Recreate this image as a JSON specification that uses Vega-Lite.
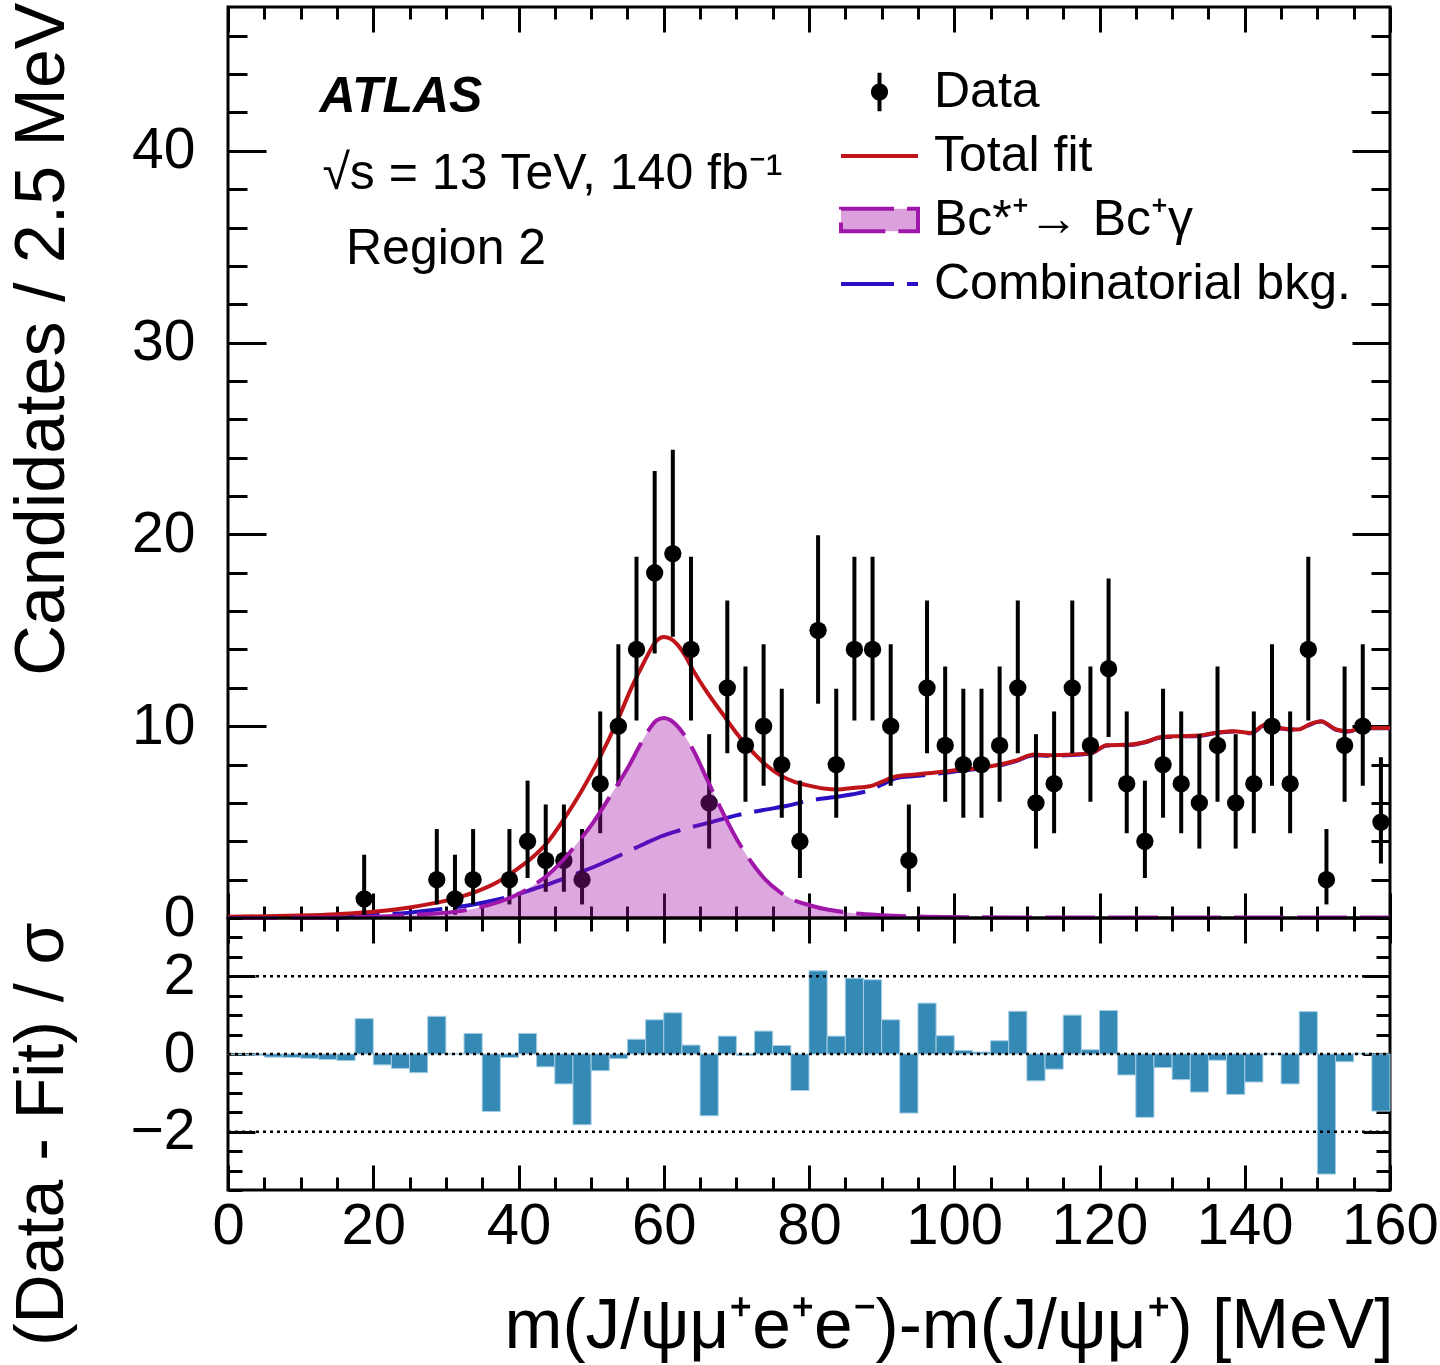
{
  "$schema": "https://vega.github.io/schema/vega-lite/v6.json",
  "padding": {"left": 5, "top": 0, "right": 4, "bottom": 4},
  "background": "white",
  "spacing": 0,
  "bounds": "flush",
  "config": {
    "view": {"stroke": "black", "strokeWidth": 3},
    "axis": {
      "grid": false, "domain": false, "tickColor": "black", "tickWidth": 3, "tickSize": 0,
      "labelFont": "Liberation Sans", "labelFontSize": 57, "labelColor": "black",
      "titleFont": "Liberation Sans", "titleFontSize": 68, "titleFontWeight": "normal", "titleColor": "black",
      "labelOverlap": false, "labelFlush": false, "labelBound": false
    },
    "text": {"font": "Liberation Sans", "color": "black"}
  },
  "datasets": {
    "bins": [
      {"lo": 0, "hi": 2.5, "c": 1.25, "n": 0, "res": -0.02},
      {"lo": 2.5, "hi": 5, "c": 3.75, "n": 0, "res": -0.03},
      {"lo": 5, "hi": 7.5, "c": 6.25, "n": 0, "res": -0.08},
      {"lo": 7.5, "hi": 10, "c": 8.75, "n": 0, "res": -0.09},
      {"lo": 10, "hi": 12.5, "c": 11.25, "n": 0, "res": -0.11},
      {"lo": 12.5, "hi": 15, "c": 13.75, "n": 0, "res": -0.14},
      {"lo": 15, "hi": 17.5, "c": 16.25, "n": 0, "res": -0.17},
      {"lo": 17.5, "hi": 20, "c": 18.75, "n": 1, "elo": 0.173, "ehi": 3.3, "res": 0.91},
      {"lo": 20, "hi": 22.5, "c": 21.25, "n": 0, "res": -0.28},
      {"lo": 22.5, "hi": 25, "c": 23.75, "n": 0, "res": -0.37},
      {"lo": 25, "hi": 27.5, "c": 26.25, "n": 0, "res": -0.48},
      {"lo": 27.5, "hi": 30, "c": 28.75, "n": 2, "elo": 0.708, "ehi": 4.638, "res": 0.97},
      {"lo": 30, "hi": 32.5, "c": 31.25, "n": 1, "elo": 0.173, "ehi": 3.3, "res": 0.01},
      {"lo": 32.5, "hi": 35, "c": 33.75, "n": 2, "elo": 0.708, "ehi": 4.638, "res": 0.53},
      {"lo": 35, "hi": 37.5, "c": 36.25, "n": 0, "res": -1.48},
      {"lo": 37.5, "hi": 40, "c": 38.75, "n": 2, "elo": 0.708, "ehi": 4.638, "res": -0.09},
      {"lo": 40, "hi": 42.5, "c": 41.25, "n": 4, "elo": 2.086, "ehi": 7.163, "res": 0.53},
      {"lo": 42.5, "hi": 45, "c": 43.75, "n": 3, "elo": 1.367, "ehi": 5.918, "res": -0.33},
      {"lo": 45, "hi": 47.5, "c": 46.25, "n": 3, "elo": 1.367, "ehi": 5.918, "res": -0.77},
      {"lo": 47.5, "hi": 50, "c": 48.75, "n": 2, "elo": 0.708, "ehi": 4.638, "res": -1.82},
      {"lo": 50, "hi": 52.5, "c": 51.25, "n": 7, "elo": 4.419, "ehi": 10.77, "res": -0.43},
      {"lo": 52.5, "hi": 55, "c": 53.75, "n": 10, "elo": 6.891, "ehi": 14.27, "res": -0.12},
      {"lo": 55, "hi": 57.5, "c": 56.25, "n": 14, "elo": 10.3, "ehi": 18.83, "res": 0.38},
      {"lo": 57.5, "hi": 60, "c": 58.75, "n": 18, "elo": 13.79, "ehi": 23.31, "res": 0.88},
      {"lo": 60, "hi": 62.5, "c": 61.25, "n": 19, "elo": 14.67, "ehi": 24.42, "res": 1.06},
      {"lo": 62.5, "hi": 65, "c": 63.75, "n": 14, "elo": 10.3, "ehi": 18.83, "res": 0.23},
      {"lo": 65, "hi": 67.5, "c": 66.25, "n": 6, "elo": 3.62, "ehi": 9.584, "res": -1.59},
      {"lo": 67.5, "hi": 70, "c": 68.75, "n": 12, "elo": 8.585, "ehi": 16.56, "res": 0.46},
      {"lo": 70, "hi": 72.5, "c": 71.25, "n": 9, "elo": 6.057, "ehi": 13.11, "res": -0.04},
      {"lo": 72.5, "hi": 75, "c": 73.75, "n": 10, "elo": 6.891, "ehi": 14.27, "res": 0.59},
      {"lo": 75, "hi": 77.5, "c": 76.25, "n": 8, "elo": 5.232, "ehi": 11.95, "res": 0.22},
      {"lo": 77.5, "hi": 80, "c": 78.75, "n": 4, "elo": 2.086, "ehi": 7.163, "res": -0.94},
      {"lo": 80, "hi": 82.5, "c": 81.25, "n": 15, "elo": 11.17, "ehi": 19.96, "res": 2.14},
      {"lo": 82.5, "hi": 85, "c": 83.75, "n": 8, "elo": 5.232, "ehi": 11.95, "res": 0.46},
      {"lo": 85, "hi": 87.5, "c": 86.25, "n": 14, "elo": 10.3, "ehi": 18.83, "res": 1.95},
      {"lo": 87.5, "hi": 90, "c": 88.75, "n": 14, "elo": 10.3, "ehi": 18.83, "res": 1.91},
      {"lo": 90, "hi": 92.5, "c": 91.25, "n": 10, "elo": 6.891, "ehi": 14.27, "res": 0.88},
      {"lo": 92.5, "hi": 95, "c": 93.75, "n": 3, "elo": 1.367, "ehi": 5.918, "res": -1.52},
      {"lo": 95, "hi": 97.5, "c": 96.25, "n": 12, "elo": 8.585, "ehi": 16.56, "res": 1.31},
      {"lo": 97.5, "hi": 100, "c": 98.75, "n": 9, "elo": 6.057, "ehi": 13.11, "res": 0.47},
      {"lo": 100, "hi": 102.5, "c": 101.25, "n": 8, "elo": 5.232, "ehi": 11.95, "res": 0.09},
      {"lo": 102.5, "hi": 105, "c": 103.75, "n": 8, "elo": 5.232, "ehi": 11.95, "res": 0.05},
      {"lo": 105, "hi": 107.5, "c": 106.25, "n": 9, "elo": 6.057, "ehi": 13.11, "res": 0.34},
      {"lo": 107.5, "hi": 110, "c": 108.75, "n": 12, "elo": 8.585, "ehi": 16.56, "res": 1.1},
      {"lo": 110, "hi": 112.5, "c": 111.25, "n": 6, "elo": 3.62, "ehi": 9.584, "res": -0.69},
      {"lo": 112.5, "hi": 115, "c": 113.75, "n": 7, "elo": 4.419, "ehi": 10.77, "res": -0.39},
      {"lo": 115, "hi": 117.5, "c": 116.25, "n": 12, "elo": 8.585, "ehi": 16.56, "res": 1.0},
      {"lo": 117.5, "hi": 120, "c": 118.75, "n": 9, "elo": 6.057, "ehi": 13.11, "res": 0.11},
      {"lo": 120, "hi": 122.5, "c": 121.25, "n": 13, "elo": 9.441, "ehi": 17.7, "res": 1.12},
      {"lo": 122.5, "hi": 125, "c": 123.75, "n": 7, "elo": 4.419, "ehi": 10.77, "res": -0.54},
      {"lo": 125, "hi": 127.5, "c": 126.25, "n": 4, "elo": 2.086, "ehi": 7.163, "res": -1.63},
      {"lo": 127.5, "hi": 130, "c": 128.75, "n": 8, "elo": 5.232, "ehi": 11.95, "res": -0.35},
      {"lo": 130, "hi": 132.5, "c": 131.25, "n": 7, "elo": 4.419, "ehi": 10.77, "res": -0.66},
      {"lo": 132.5, "hi": 135, "c": 133.75, "n": 6, "elo": 3.62, "ehi": 9.584, "res": -0.98},
      {"lo": 135, "hi": 137.5, "c": 136.25, "n": 9, "elo": 6.057, "ehi": 13.11, "res": -0.16},
      {"lo": 137.5, "hi": 140, "c": 138.75, "n": 6, "elo": 3.62, "ehi": 9.584, "res": -1.04},
      {"lo": 140, "hi": 142.5, "c": 141.25, "n": 7, "elo": 4.419, "ehi": 10.77, "res": -0.72},
      {"lo": 142.5, "hi": 145, "c": 143.75, "n": 10, "elo": 6.891, "ehi": 14.27, "res": 0.01},
      {"lo": 145, "hi": 147.5, "c": 146.25, "n": 7, "elo": 4.419, "ehi": 10.77, "res": -0.77},
      {"lo": 147.5, "hi": 150, "c": 148.75, "n": 14, "elo": 10.3, "ehi": 18.83, "res": 1.09},
      {"lo": 150, "hi": 152.5, "c": 151.25, "n": 2, "elo": 0.708, "ehi": 4.638, "res": -3.09},
      {"lo": 152.5, "hi": 155, "c": 153.75, "n": 9, "elo": 6.057, "ehi": 13.11, "res": -0.2},
      {"lo": 155, "hi": 157.5, "c": 156.25, "n": 10, "elo": 6.891, "ehi": 14.27, "res": 0.02},
      {"lo": 157.5, "hi": 160, "c": 158.75, "n": 5, "elo": 2.84, "ehi": 8.382, "res": -1.47}
    ],
    "fit": [
      {"x": 0, "y": 0.07}, {"x": 5, "y": 0.09}, {"x": 10, "y": 0.13}, {"x": 15, "y": 0.2},
      {"x": 20, "y": 0.32}, {"x": 25, "y": 0.55}, {"x": 28, "y": 0.75}, {"x": 31, "y": 1.0},
      {"x": 34, "y": 1.35}, {"x": 37, "y": 1.85}, {"x": 40, "y": 2.6}, {"x": 41.7, "y": 3.09},
      {"x": 44, "y": 3.95}, {"x": 46.3, "y": 5.18}, {"x": 48.6, "y": 6.57}, {"x": 50.9, "y": 8.14},
      {"x": 53.75, "y": 10.4}, {"x": 55.5, "y": 11.96}, {"x": 57.3, "y": 13.35}, {"x": 59, "y": 14.45},
      {"x": 60, "y": 14.65}, {"x": 61, "y": 14.55}, {"x": 62, "y": 14.2}, {"x": 63, "y": 13.65},
      {"x": 64, "y": 12.95}, {"x": 66, "y": 11.75}, {"x": 68, "y": 10.7}, {"x": 70, "y": 9.65},
      {"x": 72, "y": 8.75}, {"x": 74, "y": 8.0}, {"x": 76, "y": 7.45}, {"x": 78, "y": 7.1},
      {"x": 80, "y": 6.9}, {"x": 82, "y": 6.75}, {"x": 84, "y": 6.7}, {"x": 86, "y": 6.78},
      {"x": 88.4, "y": 6.87}, {"x": 90, "y": 7.1}, {"x": 92.1, "y": 7.39}, {"x": 94.7, "y": 7.48},
      {"x": 98.4, "y": 7.62}, {"x": 101.1, "y": 7.74}, {"x": 103.7, "y": 7.83}, {"x": 106.3, "y": 8.0},
      {"x": 108.4, "y": 8.2}, {"x": 111, "y": 8.52}, {"x": 113.2, "y": 8.49}, {"x": 116.3, "y": 8.52},
      {"x": 118.9, "y": 8.61}, {"x": 121, "y": 9.01}, {"x": 124.2, "y": 9.04}, {"x": 126.3, "y": 9.18},
      {"x": 128.4, "y": 9.43}, {"x": 131, "y": 9.48}, {"x": 133.7, "y": 9.51}, {"x": 135.8, "y": 9.65},
      {"x": 138.4, "y": 9.74}, {"x": 140.8, "y": 9.65}, {"x": 142.9, "y": 10.09}, {"x": 144.7, "y": 9.91},
      {"x": 147.4, "y": 9.83}, {"x": 148.9, "y": 10.09}, {"x": 150.5, "y": 10.26}, {"x": 152.6, "y": 9.83},
      {"x": 154.2, "y": 9.74}, {"x": 156.3, "y": 9.91}, {"x": 160, "y": 9.91}
    ],
    "sig": [
      {"x": 0, "y": 0.0}, {"x": 10, "y": 0.01}, {"x": 15, "y": 0.03}, {"x": 20, "y": 0.07},
      {"x": 25, "y": 0.15}, {"x": 28, "y": 0.22}, {"x": 31, "y": 0.32}, {"x": 34, "y": 0.5},
      {"x": 37, "y": 0.8}, {"x": 40, "y": 1.25}, {"x": 42, "y": 1.7}, {"x": 44, "y": 2.23},
      {"x": 46.3, "y": 3.09}, {"x": 48.6, "y": 4.14}, {"x": 50, "y": 4.83}, {"x": 52.7, "y": 6.4},
      {"x": 55, "y": 7.79}, {"x": 57, "y": 9.2}, {"x": 58.2, "y": 9.95}, {"x": 59, "y": 10.3},
      {"x": 60, "y": 10.43}, {"x": 61, "y": 10.3}, {"x": 62, "y": 9.95}, {"x": 64, "y": 8.8},
      {"x": 66, "y": 7.2}, {"x": 68, "y": 5.6}, {"x": 70, "y": 4.15}, {"x": 72, "y": 2.95},
      {"x": 74, "y": 2.0}, {"x": 76, "y": 1.35}, {"x": 78, "y": 0.92}, {"x": 80, "y": 0.68},
      {"x": 82, "y": 0.48}, {"x": 85, "y": 0.3}, {"x": 90, "y": 0.15}, {"x": 95, "y": 0.08},
      {"x": 100, "y": 0.05}, {"x": 110, "y": 0.03}, {"x": 125, "y": 0.02}, {"x": 160, "y": 0.02}
    ],
    "bkg": [
      {"x": 14, "y": 0.0}, {"x": 16, "y": 0.03}, {"x": 18, "y": 0.09}, {"x": 20, "y": 0.14},
      {"x": 22, "y": 0.2}, {"x": 25, "y": 0.28}, {"x": 27, "y": 0.36}, {"x": 30, "y": 0.5},
      {"x": 34, "y": 0.72}, {"x": 37, "y": 0.95}, {"x": 40, "y": 1.25}, {"x": 42, "y": 1.5},
      {"x": 45.5, "y": 1.95}, {"x": 48.6, "y": 2.4}, {"x": 51.4, "y": 2.83}, {"x": 53, "y": 3.1},
      {"x": 55, "y": 3.45}, {"x": 57.5, "y": 3.9}, {"x": 59.6, "y": 4.25}, {"x": 62, "y": 4.55},
      {"x": 65.7, "y": 4.92}, {"x": 70, "y": 5.35}, {"x": 74, "y": 5.65}, {"x": 77, "y": 5.85},
      {"x": 80, "y": 6.12}, {"x": 83, "y": 6.28}, {"x": 86, "y": 6.45}, {"x": 88.5, "y": 6.68},
      {"x": 90, "y": 6.95}, {"x": 92.1, "y": 7.3}, {"x": 94.7, "y": 7.4}, {"x": 98.4, "y": 7.56},
      {"x": 101.1, "y": 7.69}, {"x": 103.7, "y": 7.79}, {"x": 106.3, "y": 7.96}, {"x": 108.4, "y": 8.17},
      {"x": 111, "y": 8.49}, {"x": 113.2, "y": 8.46}, {"x": 116.3, "y": 8.5}, {"x": 118.9, "y": 8.59},
      {"x": 121, "y": 8.99}, {"x": 124.2, "y": 9.02}, {"x": 126.3, "y": 9.16}, {"x": 128.4, "y": 9.41},
      {"x": 131, "y": 9.46}, {"x": 133.7, "y": 9.49}, {"x": 135.8, "y": 9.63}, {"x": 138.4, "y": 9.72},
      {"x": 140.8, "y": 9.63}, {"x": 142.9, "y": 10.07}, {"x": 144.7, "y": 9.89}, {"x": 147.4, "y": 9.81},
      {"x": 148.9, "y": 10.07}, {"x": 150.5, "y": 10.24}, {"x": 152.6, "y": 9.81}, {"x": 154.2, "y": 9.72},
      {"x": 156.3, "y": 9.89}, {"x": 160, "y": 9.89}
    ],
    "refs": [{"ref": 2}, {"ref": 0}, {"ref": -2}]
  },
  "vconcat": [
    {
      "width": 1162,
      "height": 911,
      "layer": [
        {
          "data": {"name": "bkg"},
          "mark": {"type": "line", "stroke": "#2B0FC4", "strokeWidth": 4, "strokeDash": [50, 13], "interpolate": "monotone"},
          "encoding": {
            "x": {"field": "x", "type": "quantitative", "scale": {"domain": [0, 160], "nice": false, "zero": false},
              "axis": {"orient": "bottom", "values": [0,5,10,15,20,25,30,35,40,45,50,55,60,65,70,75,80,85,90,95,100,105,110,115,120,125,130,135,140,145,150,155,160],
                "labels": false, "title": null,
                "encoding": {"ticks": {"y2": {"condition": {"test": "datum.value % 20 === 0", "value": -25}, "value": -12}}}}},
            "y": {"field": "y", "type": "quantitative", "scale": {"domain": [0, 47.5], "nice": false, "zero": false},
              "axis": {"orient": "left", "values": [0,2,4,6,8,10,12,14,16,18,20,22,24,26,28,30,32,34,36,38,40,42,44,46],
                "labelExpr": "datum.value % 10 === 0 ? datum.label : ''", "labelPadding": 33,
                "title": "Candidates / 2.5 MeV", "titleAnchor": "end", "titleAngle": 270, "titleAlign": "right",
                "titleBaseline": "alphabetic", "titleX": -165, "titleY": -5, "titleFontSize": 70,
                "encoding": {"ticks": {"x2": {"condition": {"test": "datum.value % 10 === 0", "value": 38}, "value": 19}}}}}
          }
        },
        {
          "data": {"name": "fit"},
          "mark": {"type": "line", "strokeWidth": 4, "interpolate": "monotone"},
          "encoding": {
            "x": {"field": "x", "type": "quantitative", "axis": null},
            "y": {"field": "y", "type": "quantitative", "axis": null},
            "color": {
              "datum": "Total fit",
              "scale": {"domain": ["Data", "Total fit", "Bc*⁺→ Bc⁺γ", "Combinatorial bkg."], "range": ["black", "#BE141A", "#A018AA", "#2B0FC4"]},
              "legend": {
                "orient": "none", "legendX": 611, "legendY": 59, "title": null, "direction": "vertical",
                "symbolSize": 5929, "symbolStrokeWidth": 4, "labelFont": "Liberation Sans", "labelFontSize": 50,
                "labelColor": "black", "labelOffset": 14, "rowPadding": 12, "clipHeight": 52, "labelLimit": 0,
                "encoding": {
                  "symbols": {
                    "shape": {"condition": [
                      {"test": "datum.value === 'Data'", "value": "M-0.17,0A0.17,0.17,0,1,1,0.17,0A0.17,0.17,0,1,1,-0.17,0ZM0,-0.5L0,0.5"},
                      {"test": "datum.value === 'Total fit' || datum.value === 'Combinatorial bkg.'", "value": "M-1,0L1,0"}
                    ], "value": "M-1,-0.29L1,-0.29L1,0.29L-1,0.29Z"},
                    "fill": {"condition": [
                      {"test": "datum.value === 'Data'", "value": "black"},
                      {"test": "datum.value === 'Total fit' || datum.value === 'Combinatorial bkg.'", "value": "transparent"}
                    ], "value": "#DCA0DC"},
                    "strokeDash": {"condition": {"test": "datum.value === 'Data' || datum.value === 'Total fit'", "value": [1, 0]}, "value": [53, 13]},
                    "strokeWidth": {"value": 4},
                    "opacity": {"value": 1}
                  }
                }
              }
            }
          }
        },
        {
          "data": {"name": "bins"},
          "transform": [{"filter": "datum.n > 0"}],
          "mark": {"type": "rule", "color": "black", "strokeWidth": 4},
          "encoding": {
            "x": {"field": "c", "type": "quantitative", "axis": null},
            "y": {"field": "elo", "type": "quantitative", "axis": null},
            "y2": {"field": "ehi"}
          }
        },
        {
          "data": {"name": "bins"},
          "transform": [{"filter": "datum.n > 0"}],
          "mark": {"type": "point", "filled": true, "shape": "circle", "color": "black", "opacity": 1, "size": 300},
          "encoding": {
            "x": {"field": "c", "type": "quantitative", "axis": null},
            "y": {"field": "n", "type": "quantitative", "axis": null}
          }
        },
        {
          "data": {"name": "sig"},
          "mark": {"type": "area", "fill": "#A30FA8", "fillOpacity": 0.37, "interpolate": "monotone"},
          "encoding": {
            "x": {"field": "x", "type": "quantitative", "axis": null},
            "y": {"field": "y", "type": "quantitative", "axis": null}
          }
        },
        {
          "data": {"name": "sig"},
          "mark": {"type": "line", "stroke": "#A018AA", "strokeWidth": 4, "strokeDash": [50, 13], "interpolate": "monotone"},
          "encoding": {
            "x": {"field": "x", "type": "quantitative",
              "axis": {"orient": "top", "values": [0,5,10,15,20,25,30,35,40,45,50,55,60,65,70,75,80,85,90,95,100,105,110,115,120,125,130,135,140,145,150,155,160],
                "labels": false, "title": null,
                "encoding": {"ticks": {"y2": {"condition": {"test": "datum.value % 20 === 0", "value": 25}, "value": 12}}}}},
            "y": {"field": "y", "type": "quantitative",
              "axis": {"orient": "right", "values": [0,2,4,6,8,10,12,14,16,18,20,22,24,26,28,30,32,34,36,38,40,42,44,46],
                "labels": false, "title": null,
                "encoding": {"ticks": {"x2": {"condition": {"test": "datum.value % 10 === 0", "value": -38}, "value": -19}}}}}
          }
        },
        {
          "data": {"values": [{"label": "ATLAS"}]},
          "mark": {"type": "text", "fontSize": 50, "fontWeight": "bold", "fontStyle": "italic", "align": "left", "baseline": "alphabetic"},
          "encoding": {"text": {"field": "label"}, "x": {"datum": 12.6, "type": "quantitative", "axis": null}, "y": {"datum": 42.03, "type": "quantitative", "axis": null}}
        },
        {
          "data": {"values": [{"label": "√s = 13 TeV, 140 fb⁻¹"}]},
          "mark": {"type": "text", "fontSize": 50, "align": "left", "baseline": "alphabetic"},
          "encoding": {"text": {"field": "label"}, "x": {"datum": 13.0, "type": "quantitative", "axis": null}, "y": {"datum": 38.02, "type": "quantitative", "axis": null}}
        },
        {
          "data": {"values": [{"label": "Region 2"}]},
          "mark": {"type": "text", "fontSize": 50, "align": "left", "baseline": "alphabetic"},
          "encoding": {"text": {"field": "label"}, "x": {"datum": 16.25, "type": "quantitative", "axis": null}, "y": {"datum": 34.12, "type": "quantitative", "axis": null}}
        }
      ]
    },
    {
      "width": 1162,
      "height": 272,
      "layer": [
        {
          "data": {"name": "bins"},
          "mark": {"type": "bar", "color": "#3589B5", "stroke": "#A4CDE4", "strokeWidth": 1},
          "encoding": {
            "x": {"field": "lo", "type": "quantitative", "scale": {"domain": [0, 160], "nice": false, "zero": false},
              "axis": {"orient": "bottom", "values": [0,5,10,15,20,25,30,35,40,45,50,55,60,65,70,75,80,85,90,95,100,105,110,115,120,125,130,135,140,145,150,155,160],
                "labelExpr": "datum.value % 20 === 0 ? datum.label : ''", "labelPadding": 7, "labelFontSize": 58,
                "title": "m(J/ψμ⁺e⁺e⁻)-m(J/ψμ⁺) [MeV]", "titleAnchor": "end", "titleAlign": "right", "titleBaseline": "alphabetic",
                "titleX": 1165, "titleY": 157, "titleFontSize": 69.5,
                "encoding": {"ticks": {"y2": {"condition": {"test": "datum.value % 20 === 0", "value": -25}, "value": -13}}}}},
            "x2": {"field": "hi"},
            "y": {"field": "res", "type": "quantitative", "scale": {"domain": [-3.5, 3.5], "nice": false, "zero": false},
              "axis": {"orient": "left", "values": [-3.5,-3,-2.5,-2,-1.5,-1,-0.5,0,0.5,1,1.5,2,2.5,3,3.5],
                "labelExpr": "datum.value === 2 ? '2' : datum.value === 0 ? '0' : datum.value === -2 ? '−2' : ''", "labelPadding": 33,
                "title": "(Data - Fit) / σ", "titleAnchor": "end", "titleAngle": 270, "titleAlign": "right",
                "titleBaseline": "alphabetic", "titleX": -166, "titleY": 4,
                "encoding": {"ticks": {"x2": {"condition": {"test": "datum.value % 2 === 0", "value": 27}, "value": 14}}}}},
            "y2": {"datum": 0}
          }
        },
        {
          "data": {"name": "refs"},
          "mark": {"type": "rule", "color": "black", "strokeWidth": 2.5, "strokeDash": [3, 4]},
          "encoding": {
            "x": {"datum": 0, "type": "quantitative",
              "axis": {"orient": "top", "values": [0,5,10,15,20,25,30,35,40,45,50,55,60,65,70,75,80,85,90,95,100,105,110,115,120,125,130,135,140,145,150,155,160],
                "labels": false, "title": null,
                "encoding": {"ticks": {"y2": {"condition": {"test": "datum.value % 20 === 0", "value": 25}, "value": 13}}}}},
            "x2": {"datum": 160},
            "y": {"field": "ref", "type": "quantitative",
              "axis": {"orient": "right", "values": [-3.5,-3,-2.5,-2,-1.5,-1,-0.5,0,0.5,1,1.5,2,2.5,3,3.5],
                "labels": false, "title": null,
                "encoding": {"ticks": {"x2": {"condition": {"test": "datum.value % 2 === 0", "value": -27}, "value": -14}}}}}
          }
        }
      ]
    }
  ]
}
